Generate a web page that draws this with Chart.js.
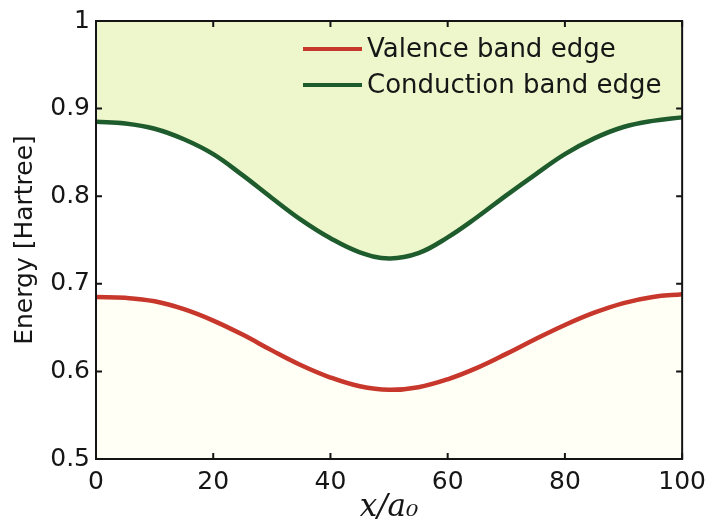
<!DOCTYPE html>
<html lang="en">
  <head>
    <meta charset="UTF-8" />
    <title>Band edges</title>
    <script src="https://cdn.jsdelivr.net/npm/chart.js@4.4.0/dist/chart.umd.min.js"></script>
    <style>
      html, body { margin: 0; padding: 0; background: #fff; }
    </style>
  </head>
  <body>
    <canvas id="bandChart" width="714" height="529"></canvas>

    <script>
      // position along the structure, in units of a0
      const positions = [0, 5, 10, 15, 20, 25, 30, 35, 40, 45, 50, 55, 60, 65, 70, 75, 80, 85, 90, 95, 100];
      // band edges, Hartree
      const valenceEdge = [0.685, 0.684, 0.680, 0.671, 0.658, 0.642, 0.624, 0.607, 0.593, 0.583, 0.579, 0.582, 0.591, 0.604, 0.620, 0.637, 0.653, 0.667, 0.678, 0.685, 0.688];
      const conductionEdge = [0.885, 0.883, 0.877, 0.865, 0.848, 0.824, 0.798, 0.773, 0.752, 0.736, 0.729, 0.735, 0.753, 0.776, 0.801, 0.825, 0.848, 0.866, 0.879, 0.886, 0.890];

      const xTicks = [0, 20, 40, 60, 80, 100];
      const yTicks = [0.5, 0.6, 0.7, 0.8, 0.9, 1];

      Chart.defaults.font.family = "DejaVu Sans";
      Chart.defaults.color = "#161616";

      function toPoints(ys) {
        return positions.map((x, i) => ({ x: x, y: ys[i] }));
      }

      // box around the plot with matlab-style inward ticks
      const frameTicks = {
        id: "frameTicks",
        afterDatasetsDraw(chart) {
          const { ctx, chartArea: a, scales } = chart;
          ctx.save();
          ctx.strokeStyle = "#141414";
          ctx.lineWidth = 2;
          ctx.strokeRect(a.left, a.top, a.right - a.left, a.bottom - a.top);
          ctx.beginPath();
          scales.x.ticks.forEach((t) => {
            const px = scales.x.getPixelForValue(t.value);
            ctx.moveTo(px, a.bottom);
            ctx.lineTo(px, a.bottom - 6);
            ctx.moveTo(px, a.top);
            ctx.lineTo(px, a.top + 6);
          });
          scales.y.ticks.forEach((t) => {
            const py = scales.y.getPixelForValue(t.value);
            ctx.moveTo(a.left, py);
            ctx.lineTo(a.left + 6, py);
            ctx.moveTo(a.right, py);
            ctx.lineTo(a.right - 6, py);
          });
          ctx.stroke();
          ctx.restore();
        },
      };

      // legend inside the top right corner of the plot
      const innerLegend = {
        id: "innerLegend",
        afterDraw(chart) {
          const { ctx, chartArea: a } = chart;
          const x0 = a.left + 207;
          const y0 = a.top + 28;
          ctx.save();
          ctx.font = "26px 'DejaVu Sans'";
          ctx.textBaseline = "middle";
          chart.data.datasets.forEach((ds, i) => {
            const y = y0 + i * 36;
            ctx.strokeStyle = ds.borderColor;
            ctx.lineWidth = 4;
            ctx.beginPath();
            ctx.moveTo(x0, y);
            ctx.lineTo(x0 + 59, y);
            ctx.stroke();
            ctx.fillStyle = "#161616";
            ctx.fillText(ds.label, x0 + 64, y + 1);
          });
          ctx.restore();
        },
      };

      new Chart(document.getElementById("bandChart"), {
        type: "line",
        data: {
          datasets: [
            {
              label: "Valence band edge",
              data: toPoints(valenceEdge),
              borderColor: "#c8372b",
              borderWidth: 4.5,
              backgroundColor: "#fffff5",
              fill: "start",
              pointRadius: 0,
              tension: 0.4,
            },
            {
              label: "Conduction band edge",
              data: toPoints(conductionEdge),
              borderColor: "#1e5b2d",
              borderWidth: 4.5,
              backgroundColor: "#eef7cb",
              fill: "end",
              pointRadius: 0,
              tension: 0.4,
            },
          ],
        },
        options: {
          responsive: false,
          animation: false,
          layout: { padding: { top: 14, right: 31, left: 0, bottom: 0 } },
          plugins: {
            legend: { display: false },
            tooltip: { enabled: false },
          },
          scales: {
            x: {
              type: "linear",
              min: 0,
              max: 100,
              afterBuildTicks: (s) => {
                s.ticks = xTicks.map((v) => ({ value: v }));
              },
              afterFit: (s) => {
                s.height = 70;
              },
              grid: { display: false, drawTicks: false },
              border: { display: false },
              ticks: { font: { size: 25 }, padding: 8, maxRotation: 0 },
              title: {
                display: true,
                text: "x/a₀",
                font: { family: "DejaVu Serif", style: "italic", size: 31 },
                padding: { top: 0, bottom: 2 },
              },
            },
            y: {
              type: "linear",
              min: 0.5,
              max: 1,
              afterBuildTicks: (s) => {
                s.ticks = yTicks.map((v) => ({ value: v }));
              },
              afterFit: (s) => {
                s.width = 96;
              },
              grid: { display: false, drawTicks: false },
              border: { display: false },
              ticks: {
                font: { size: 25 },
                padding: 6,
                callback: (v) => String(Math.round(v * 10) / 10),
              },
              title: {
                display: true,
                text: "Energy [Hartree]",
                font: { size: 25 },
                padding: { top: 10, bottom: 0 },
              },
            },
          },
        },
        plugins: [frameTicks, innerLegend],
      });
    </script>
  </body>
</html>
